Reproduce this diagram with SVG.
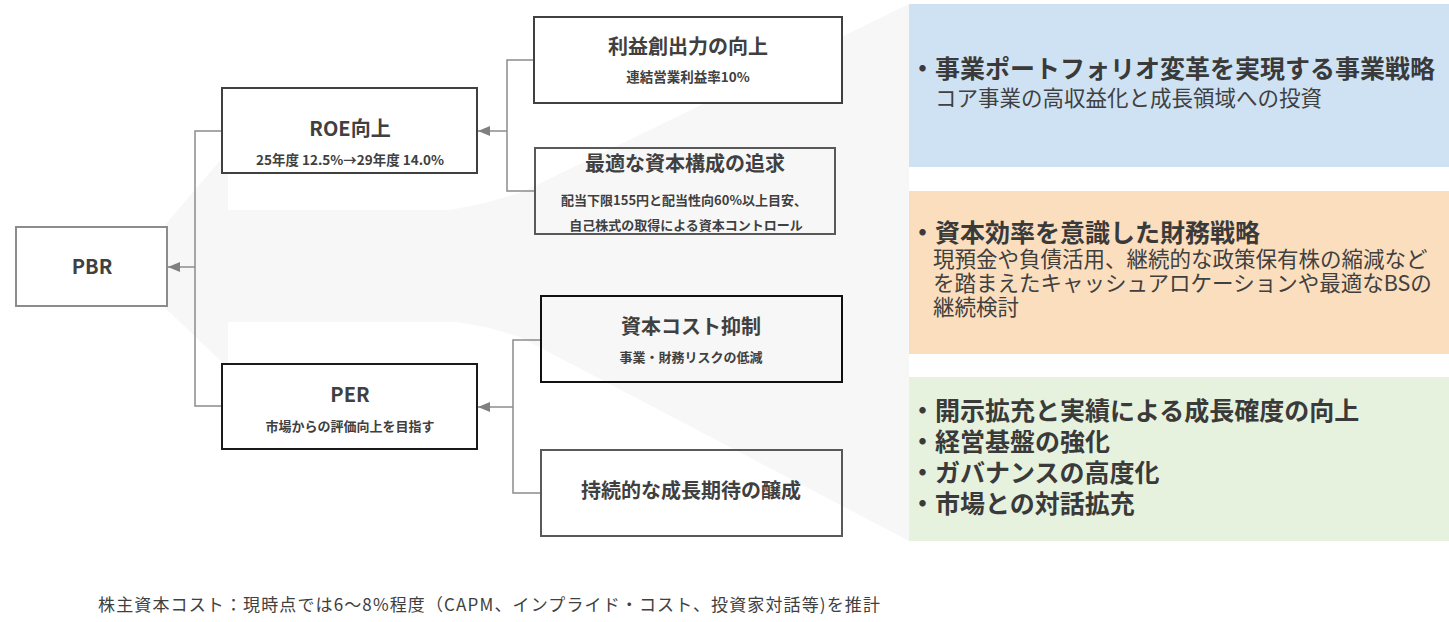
<svg xmlns="http://www.w3.org/2000/svg" width="1449" height="622" viewBox="0 0 1449 622">
<defs>
<style>
text{font-family:"Noto Sans CJK JP","Noto Sans",sans-serif;fill:#404040}
.t{font-size:20px;font-weight:700;text-anchor:middle}
.s{font-size:13px;font-weight:700;text-anchor:middle}
.box{fill:#fff;stroke-width:2}
.open{fill:none;stroke-width:2}
.conn{fill:none;stroke:#8c8c8c;stroke-width:1.5}
.pb{font-size:25px;font-weight:700;fill:#3a3a3a}
.pn{font-size:21.5px;font-weight:400}
.note{font-size:17px}
</style>
<marker id="ah" markerWidth="12" markerHeight="10" refX="12" refY="5" orient="auto" markerUnits="userSpaceOnUse"><path d="M0,0 L12,5 L0,10 z" fill="#808080"/></marker>
</defs>
<rect width="1449" height="622" fill="#fff"/>
<path id="funnel" fill="#f7f7f7" d="M160,231 L228,151 L228,210 L450,210 L485,203 L520,193 L909,4 L909,541 L520,337 L490,328 L457,322 L228,322 L228,368 L160,303 Z"/>

<g id="panel-blue">
<rect x="909" y="4" width="540" height="163" fill="#cfe2f3"/>
<text class="pb" x="910" y="78">・事業ポートフォリオ変革を実現する事業戦略</text>
<text class="pn" x="935" y="106">コア事業の高収益化と成長領域への投資</text>
</g>
<g id="panel-orange">
<rect x="909" y="191" width="540" height="163" fill="#fadebe"/>
<text class="pb" x="910" y="242">・資本効率を意識した財務戦略</text>
<text class="pn" x="933" y="267">現預金や負債活用、継続的な政策保有株の縮減など</text>
<text class="pn" x="933" y="291">を踏まえたキャッシュアロケーションや最適なBSの</text>
<text class="pn" x="933" y="315">継続検討</text>
</g>
<g id="panel-green">
<rect x="909" y="377" width="540" height="164" fill="#e6f2de"/>
<text class="pb" x="910" y="420">・開示拡充と実績による成長確度の向上</text>
<text class="pb" x="910" y="451">・経営基盤の強化</text>
<text class="pb" x="910" y="482">・ガバナンスの高度化</text>
<text class="pb" x="910" y="513">・市場との対話拡充</text>
</g>

<g id="connectors">
<path class="conn" d="M222,131 H195 V406 H222"/>
<path class="conn" d="M195,267 H168" marker-end="url(#ah)"/>
<path class="conn" d="M534,60 H507 V191 H535"/>
<path class="conn" d="M507,131 H478" marker-end="url(#ah)"/>
<path class="conn" d="M541,340 H513 V493 H541"/>
<path class="conn" d="M513,407 H478" marker-end="url(#ah)"/>
</g>

<g id="pbr">
<rect class="box" x="16" y="227" width="151" height="79" stroke="#8c8c8c"/>
<text class="t" x="92" y="274">PBR</text>
</g>
<g id="roe">
<rect class="box" x="222" y="88" width="255" height="85" stroke="#404040"/>
<text class="t" x="350" y="136">ROE向上</text>
<text class="s" x="350" y="165" style="font-size:13.5px">25年度 12.5%→29年度 14.0%</text>
</g>
<g id="per">
<rect class="box" x="222" y="364" width="255" height="85" stroke="#1a1a1a"/>
<text class="t" x="350" y="402">PER</text>
<text class="s" x="350" y="431">市場からの評価向上を目指す</text>
</g>
<g id="profit">
<rect class="box" x="534" y="17" width="308" height="86" stroke="#404040"/>
<text class="t" x="688" y="54">利益創出力の向上</text>
<text class="s" x="688" y="82" style="font-size:13.5px">連結営業利益率10%</text>
</g>
<g id="capital-structure">
<rect class="open" x="535" y="148" width="300" height="86" stroke="#595959"/>
<text class="t" x="685" y="171">最適な資本構成の追求</text>
<text class="s" x="684" y="205">配当下限155円と配当性向60%以上目安、</text>
<text class="s" x="686" y="230">自己株式の取得による資本コントロール</text>
</g>
<g id="cost">
<rect class="open" x="541" y="296" width="301" height="86" stroke="#111111"/>
<text class="t" x="691" y="334">資本コスト抑制</text>
<text class="s" x="691" y="362">事業・財務リスクの低減</text>
</g>
<g id="growth">
<rect class="open" x="541" y="450" width="301" height="86" stroke="#595959"/>
<text class="t" x="691" y="498">持続的な成長期待の醸成</text>
</g>

<text class="note" x="98" y="611" textLength="782" lengthAdjust="spacing">株主資本コスト：現時点では6～8%程度（CAPM、インプライド・コスト、投資家対話等)を推計</text>
</svg>
